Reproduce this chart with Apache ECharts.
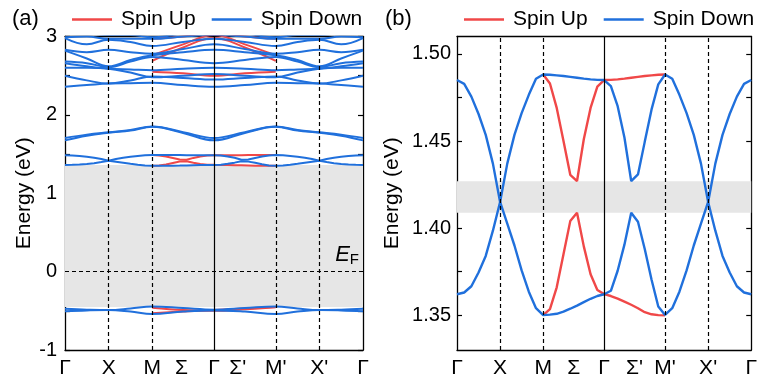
<!DOCTYPE html>
<html><head><meta charset="utf-8">
<script src="https://cdn.jsdelivr.net/npm/echarts@6/dist/echarts.min.js"></script>
<style>html,body{margin:0;padding:0;background:#fff}#c{width:760px;height:383px}</style>
</head><body><div id="c"></div>
<script>
// ---------- DATA ----------
const kNames = ['Γ','X','M','Σ','Γ',"Σ'","M'","X'",'Γ'];
const kTicksA = [0,1,2,2.67,3.414,3.96,4.828,5.828,6.828];
const kTicksB = [0,1,2,2.707,3.414,4.121,4.828,5.828,6.828];
const kDashed = [1,2,4.828,5.828];
const kCenter = 3.414;
const kMax = 6.8284;
const gapA = [-0.45, 1.36];
const gapB = [1.4088, 1.4269];
const yTicksA = [-1,-0.5,0,0.5,1,1.5,2,2.5,3];
const yLabelsA = [-1,0,1,2,3];
const yTicksB = [1.35,1.375,1.40,1.425,1.45,1.475,1.50];
const yLabelsB = [1.35,1.40,1.45,1.50];

// fine k-path (Γ-X-M-Γ-M'-X'-Γ)
const kFine = [0,0.1667,0.3333,0.5,0.6667,0.8333,1,
  1.1667,1.3333,1.5,1.6667,1.8333,2,
  2.1571,2.3143,2.4714,2.6285,2.7856,2.9428,3.0999,3.2570,3.4142,
  3.5713,3.7284,3.8856,4.0427,4.1998,4.3570,4.5141,4.6712,4.8284,
  4.9951,5.1617,5.3284,5.4951,5.6617,5.8284,
  5.9951,6.1617,6.3284,6.4951,6.6617,6.8284];
// fine k-path from M to M'
const kFineMid = [2,2.1571,2.3143,2.4714,2.6285,2.7856,2.9428,3.0999,3.2570,3.4142,
  3.5713,3.7284,3.8856,4.0427,4.1998,4.3570,4.5141,4.6712,4.8284];
const kCoarse = [0,0.5,1,1.5,2,2.707,3.414,4.121,4.828,5.328,5.828,6.328,6.828];
const kCoarseMid = [2,2.707,3.414,4.121,4.828];

// bands near 1.35-1.49 eV (panel b and a)
const downLow = [1.362,1.3630,1.3666,1.3745,1.3840,1.3985,1.415,
  1.4025,1.3900,1.3757,1.3635,1.3540,1.3500,
  1.3503,1.3508,1.3520,1.3537,1.3555,1.3575,1.3594,1.3610,1.3620,
  1.3640,1.3755,1.3905,1.4088,1.4036,1.3880,1.3705,1.3550,1.3501,
  1.3540,1.3635,1.3757,1.3900,1.4025,1.415,
  1.3985,1.3840,1.3745,1.3666,1.3630,1.362];
const downHigh = [1.485,1.4828,1.4755,1.4655,1.4535,1.4370,1.415,
  1.4370,1.4535,1.4660,1.4765,1.4857,1.4882,
  1.4880,1.4877,1.4873,1.4868,1.4863,1.4858,1.4854,1.4851,1.4850,
  1.4815,1.4700,1.4520,1.4270,1.4308,1.4495,1.4680,1.4825,1.4882,
  1.4857,1.4765,1.4660,1.4535,1.4370,1.415,
  1.4370,1.4535,1.4655,1.4755,1.4828,1.485];
const upHigh = [1.4882,1.4830,1.4690,1.4500,1.4306,1.4270,1.4510,1.4690,1.4812,1.4850,
  1.4851,1.4854,1.4858,1.4863,1.4868,1.4873,1.4877,1.4880,1.4882];
const upLow = [1.3500,1.3535,1.3660,1.3850,1.4040,1.4088,1.3895,1.3735,1.3644,1.3621,
  1.3610,1.3595,1.3578,1.3560,1.3540,1.3517,1.3505,1.3500,1.3499];

// panel a: other bands (coarse path)
const downVal1 = [-0.475,-0.485,-0.49,-0.47,-0.445,-0.465,-0.485,-0.465,-0.445,-0.47,-0.49,-0.485,-0.475];
const downVal2 = [-0.505,-0.495,-0.49,-0.51,-0.54,-0.51,-0.495,-0.51,-0.54,-0.51,-0.49,-0.495,-0.505];
const upVal1 = [-0.46,-0.49,-0.50,-0.48,-0.455];
const upVal2 = [-0.53,-0.51,-0.49,-0.47,-0.45];
const downC1 = [1.675,1.735,1.772,1.800,1.848,1.770,1.675,1.770,1.848,1.800,1.772,1.735,1.675];
const downC2 = [1.705,1.748,1.778,1.806,1.852,1.780,1.705,1.780,1.852,1.806,1.778,1.748,1.705];
const downB1 = [2.36,2.38,2.40,2.405,2.41,2.38,2.36,2.38,2.41,2.405,2.40,2.38,2.36];
const downB2 = [2.50,2.44,2.40,2.44,2.49,2.47,2.45,2.47,2.49,2.44,2.40,2.44,2.50];
const downB3 = [2.60,2.60,2.59,2.54,2.48,2.50,2.52,2.50,2.48,2.54,2.59,2.60,2.60];
const downB4 = [2.66,2.62,2.59,2.58,2.57,2.59,2.60,2.59,2.57,2.58,2.59,2.62,2.66];
const downB5 = [2.68,2.66,2.61,2.68,2.74,2.70,2.66,2.70,2.74,2.68,2.61,2.66,2.68];
const downB6 = [2.82,2.72,2.62,2.70,2.76,2.80,2.83,2.80,2.76,2.70,2.62,2.72,2.82];
const downB7 = [2.83,2.80,2.83,2.80,2.78,2.84,2.90,2.84,2.78,2.80,2.83,2.80,2.83];
const downB8 = [2.98,2.90,2.96,2.93,2.88,2.93,2.97,2.93,2.88,2.93,2.96,2.90,2.98];
const downB9 = [2.99,3.00,2.97,2.97,2.97,3.00,3.02,3.00,2.97,2.97,2.97,3.00,2.99];
const downB10 = [3.10,3.05,3.02,3.02,2.99,3.04,3.08,3.04,2.99,3.02,3.02,3.05,3.10];
const upR1 = [2.69,2.86,2.98,2.86,2.69];
const upR2 = [2.76,2.90,3.02,2.90,2.76];
const upR3 = [2.55,2.53,2.50,2.53,2.55];
const upR4 = [2.97,3.00,3.05,3.00,2.97];

// ---------- CHART ----------
const RED = '#f04848', BLUE = '#2070dc', FONT = 'Liberation Sans';
const chart = echarts.init(document.getElementById('c'), null, {renderer:'canvas'});

function band(name, xs, ys, gi, width, smooth) {
  const color = name === 'Spin Up' ? RED : BLUE;
  return {type:'line', name, xAxisIndex:gi*2, yAxisIndex:gi*2,
    data: xs.map((x,i)=>[x, ys[i]]), symbol:'none', showSymbol:false,
    lineStyle:{color, width}, itemStyle:{color}, smooth: smooth,
    z: name === 'Spin Up' ? 3 : 4, silent:true, animation:false};
}
function helpers(gi, gap, withEF) {
  const lines = kDashed.map(v=>({xAxis:v})).concat([{xAxis:kCenter, lineStyle:{type:'solid'}}]);
  if (withEF) lines.push({yAxis:0, label:{show:true, position:'insideEndTop', distance:[4,4],
    formatter:'{e|E}{f|F}', rich:{e:{fontStyle:'italic', fontSize:22, fontFamily:FONT, color:'#000'},
    f:{fontSize:15, fontFamily:FONT, color:'#000', padding:[10,0,0,0]}}}});
  return [
    {type:'line', xAxisIndex:gi*2, yAxisIndex:gi*2, data:[], z:1, silent:true,
     markArea:{silent:true, itemStyle:{color:'#e6e6e6'}, data:[[{yAxis:gap[0]},{yAxis:gap[1]}]]}},
    {type:'line', xAxisIndex:gi*2, yAxisIndex:gi*2, data:[], z:2, silent:true,
     markLine:{silent:true, symbol:'none', animation:false, label:{show:false},
       lineStyle:{color:'#000', type:[4,3], width:1.2}, data: lines}}
  ];
}
function xAxes(gi, ticks) {
  return [
    {type:'value', gridIndex:gi, min:0, max:kMax, position:'bottom',
     axisLine:{onZero:false, lineStyle:{color:'#000', width:1.3}}, axisTick:{show:false}, splitLine:{show:false},
     axisLabel:{customValues:ticks, margin:8, color:'#000', fontSize:21, fontFamily:FONT,
       formatter:(v)=>{let i=ticks.findIndex(t=>Math.abs(t-v)<1e-3); return i<0?'':kNames[i];}}},
    {type:'value', gridIndex:gi, min:0, max:kMax, position:'top',
     axisLine:{onZero:false, lineStyle:{color:'#000', width:1.3}}, axisTick:{show:false}, axisLabel:{show:false}, splitLine:{show:false}}
  ];
}
function yAxes(gi, min, max, ticks, labels, fmt, gap, margin) {
  return [
    {type:'value', gridIndex:gi, min, max, position:'left', name:'Energy (eV)', nameLocation:'middle', nameGap:gap,
     nameTextStyle:{fontSize:21, fontFamily:FONT, color:'#000'},
     axisLine:{onZero:false, lineStyle:{color:'#000', width:1.3}},
     axisTick:{inside:true, length:5, customValues:ticks, lineStyle:{color:'#000', width:1.2}},
     axisLabel:{customValues:labels, formatter:fmt, color:'#000', fontSize:20, fontFamily:FONT, margin},
     splitLine:{show:false}},
    {type:'value', gridIndex:gi, min, max, position:'right',
     axisLine:{onZero:false, lineStyle:{color:'#000', width:1.3}},
     axisTick:{inside:true, length:5, customValues:ticks, lineStyle:{color:'#000', width:1.2}},
     axisLabel:{show:false}, splitLine:{show:false}}
  ];
}

const series = [];
series.push(...helpers(0, gapA, true), ...helpers(1, gapB, false));
// panel a
[downLow,downHigh].forEach(d=>series.push(band('Spin Down',kFine,d,0,2,false)));
[upHigh,upLow].forEach(d=>series.push(band('Spin Up',kFineMid,d,0,2,false)));
[downVal1,downVal2,downC1,downC2,downB1,downB2,downB3,downB4,downB5,downB6,downB7,downB8,downB9,downB10]
  .forEach(d=>series.push(band('Spin Down',kCoarse,d,0,2,0.4)));
[upVal1,upVal2,upR1,upR2,upR3,upR4].forEach(d=>series.push(band('Spin Up',kCoarseMid,d,0,2,0.4)));
// panel b
[downLow,downHigh].forEach(d=>series.push(band('Spin Down',kFine,d,1,2.4,false)));
[upHigh,upLow].forEach(d=>series.push(band('Spin Up',kFineMid,d,1,2.4,false)));

const legendBase = {data:['Spin Up','Spin Down'], icon:'rect', itemWidth:40, itemHeight:2.5, itemGap:16,
  textStyle:{fontSize:21, fontFamily:FONT, color:'#000', padding:[0,0,0,4]}, selectedMode:false};

chart.setOption({
  animation:false,
  backgroundColor:'#fff',
  title:[{text:'(a)', left:7, top:3, textStyle:{fontSize:22, fontWeight:'normal', fontFamily:FONT, color:'#000'}},
         {text:'(b)', left:380, top:3, textStyle:{fontSize:22, fontWeight:'normal', fontFamily:FONT, color:'#000'}}],
  legend:[Object.assign({left:67, top:4}, legendBase), Object.assign({left:459, top:4}, legendBase)],
  grid:[{left:65, right:397, top:36.5, bottom:33}, {left:457, right:7.5, top:36.5, bottom:33}],
  xAxis:[...xAxes(0,kTicksA), ...xAxes(1,kTicksB)],
  yAxis:[...yAxes(0,-1,3,yTicksA,yLabelsA,(v)=>String(Math.round(v)),30,8),
         ...yAxes(1,1.33,1.51,yTicksB,yLabelsB,(v)=>v.toFixed(2),54,6)],
  series
});
</script></body></html>
